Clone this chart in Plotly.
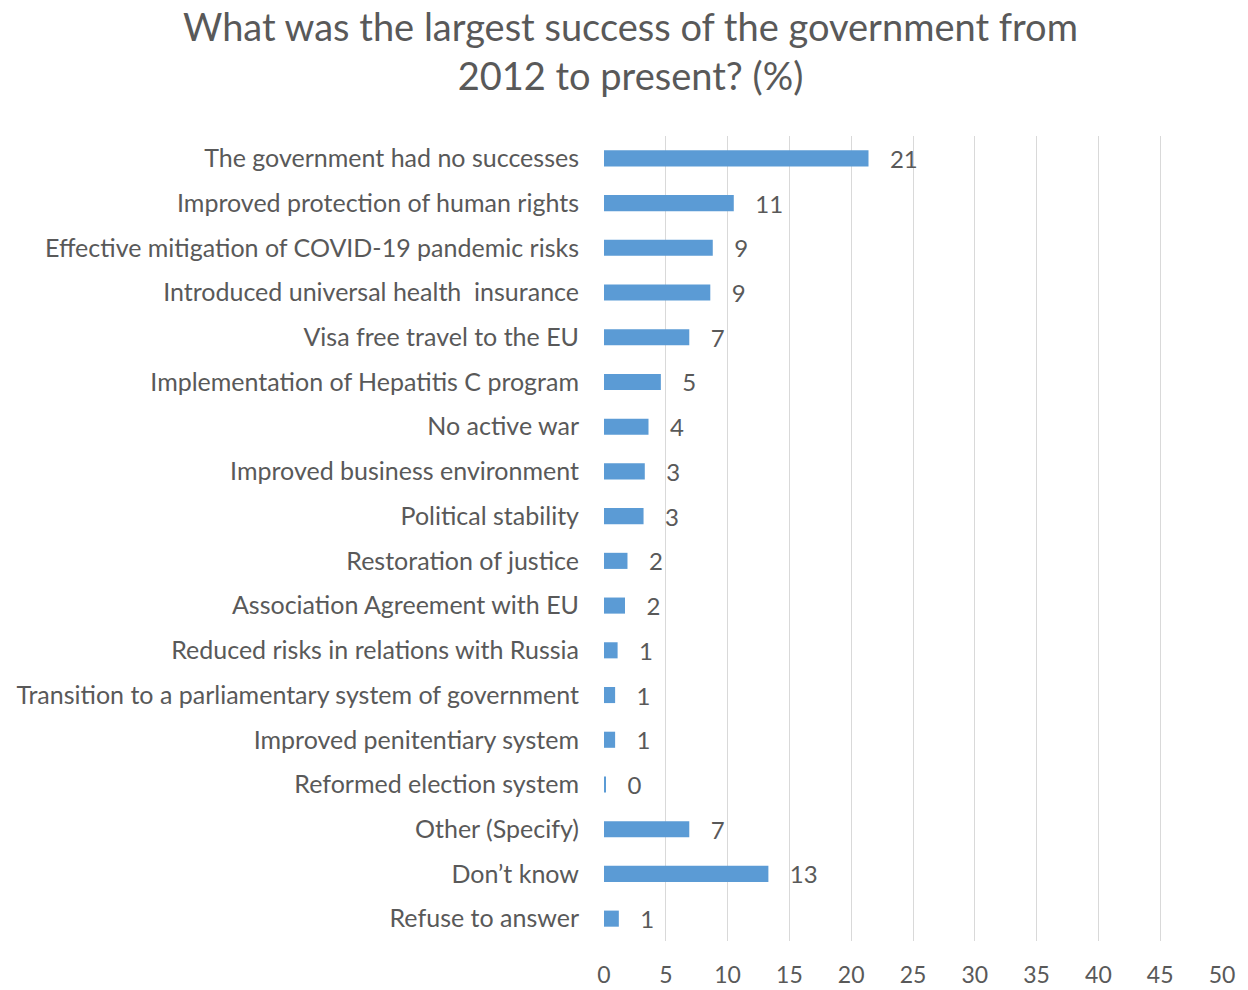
import plotly.graph_objects as go

# Survey answers, top to bottom as shown
categories = [
    "The government had no successes",
    "Improved protection of human rights",
    "Effective mitigation of COVID-19 pandemic risks",
    "Introduced universal health  insurance",
    "Visa free travel to the EU",
    "Implementation of Hepatitis C program",
    "No active war",
    "Improved business environment",
    "Political stability",
    "Restoration of justice",
    "Association Agreement with EU",
    "Reduced risks in relations with Russia",
    "Transition to a parliamentary system of government",
    "Improved penitentiary system",
    "Reformed election system",
    "Other (Specify)",
    "Don\u2019t know",
    "Refuse to answer",
]

# Share of respondents (%)
percent = [21.4, 10.5, 8.8, 8.6, 6.9, 4.6, 3.6, 3.3, 3.2, 1.9, 1.7,
           1.1, 0.9, 0.9, 0.1, 6.9, 13.3, 1.2]

x_ticks = list(range(0, 55, 5))

title_text = "What was the largest success of the government from<br>2012 to present? (%)"

FONT = "Lato"
GREY = "#595959"

fig = go.Figure(
    go.Bar(
        x=percent,
        y=categories,
        orientation="h",
        marker=dict(color="#5B9BD5", line=dict(width=0)),
        width=0.36,
        text=percent,
        texttemplate="   %{x:.0f}",
        textposition="outside",
        constraintext="none",
        cliponaxis=False,
        textfont=dict(family=FONT, size=24, color=GREY),
    )
)

fig.update_layout(
    width=1248,
    height=990,
    paper_bgcolor="white",
    plot_bgcolor="white",
    margin=dict(l=604, r=26, t=136, b=49, autoexpand=False),
    showlegend=False,
    font=dict(family=FONT, color=GREY),
)

# Chart heading, centred over the whole figure
fig.add_annotation(
    text=title_text,
    xref="paper",
    yref="paper",
    x=(630.5 - 604) / 618,
    y=(941 - 50) / 805,
    xanchor="center",
    yanchor="middle",
    showarrow=False,
    font=dict(family=FONT, size=38, color=GREY),
)

fig.update_xaxes(
    range=[0, 50],
    tickvals=x_ticks,
    showgrid=True,
    gridcolor="#D9D9D9",
    gridwidth=1,
    zeroline=False,
    showline=False,
    ticks="",
    automargin=False,
    ticklabelstandoff=18,
    tickfont=dict(family=FONT, size=23, color=GREY),
)

fig.update_yaxes(
    categoryorder="array",
    categoryarray=categories,
    autorange="reversed",
    showgrid=False,
    showline=False,
    zeroline=False,
    ticks="",
    automargin=False,
    ticklabelstandoff=24,
    tickfont=dict(family=FONT, size=25, color=GREY),
)

fig.write_html("out.html")
